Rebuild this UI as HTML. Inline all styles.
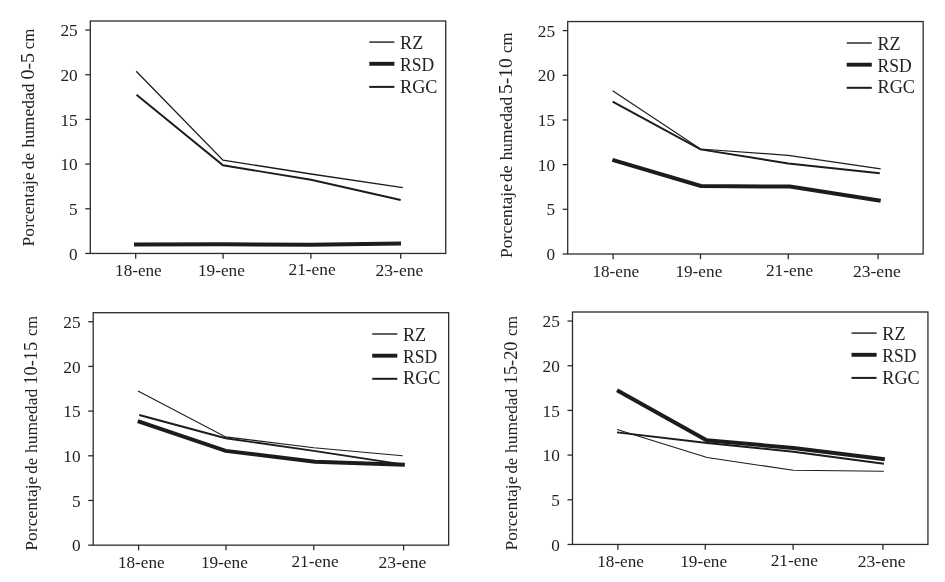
<!DOCTYPE html>
<html lang="es"><head><meta charset="utf-8"><title>Porcentaje de humedad</title>
<style>html,body{margin:0;padding:0;background:#fff}svg{display:block}text{font-family:"Liberation Serif",serif;fill:#222}</style></head><body>
<svg width="945" height="582" viewBox="0 0 945 582">
<rect width="945" height="582" fill="#ffffff"/>
<g>
<rect x="90.30" y="21.00" width="355.45" height="232.45" fill="none" stroke="#2c2c2c" stroke-width="1.3"/>
<line x1="85.30" y1="253.45" x2="90.30" y2="253.45" stroke="#2c2c2c" stroke-width="1.3"/>
<text x="77.70" y="259.55" font-size="17.5" text-anchor="end" textLength="8.6" lengthAdjust="spacingAndGlyphs">0</text>
<line x1="85.30" y1="208.77" x2="90.30" y2="208.77" stroke="#2c2c2c" stroke-width="1.3"/>
<text x="77.70" y="214.87" font-size="17.5" text-anchor="end" textLength="8.6" lengthAdjust="spacingAndGlyphs">5</text>
<line x1="85.30" y1="164.09" x2="90.30" y2="164.09" stroke="#2c2c2c" stroke-width="1.3"/>
<text x="77.70" y="170.19" font-size="17.5" text-anchor="end" textLength="17.3" lengthAdjust="spacingAndGlyphs">10</text>
<line x1="85.30" y1="119.41" x2="90.30" y2="119.41" stroke="#2c2c2c" stroke-width="1.3"/>
<text x="77.70" y="125.51" font-size="17.5" text-anchor="end" textLength="17.3" lengthAdjust="spacingAndGlyphs">15</text>
<line x1="85.30" y1="74.73" x2="90.30" y2="74.73" stroke="#2c2c2c" stroke-width="1.3"/>
<text x="77.70" y="80.83" font-size="17.5" text-anchor="end" textLength="17.3" lengthAdjust="spacingAndGlyphs">20</text>
<line x1="85.30" y1="30.05" x2="90.30" y2="30.05" stroke="#2c2c2c" stroke-width="1.3"/>
<text x="77.70" y="36.15" font-size="17.5" text-anchor="end" textLength="17.3" lengthAdjust="spacingAndGlyphs">25</text>
<line x1="135.70" y1="253.45" x2="135.70" y2="258.65" stroke="#2c2c2c" stroke-width="1.3"/>
<text x="138.40" y="276.10" font-size="17.5" text-anchor="middle" textLength="46.7" lengthAdjust="spacingAndGlyphs">18-ene</text>
<line x1="223.10" y1="253.45" x2="223.10" y2="258.65" stroke="#2c2c2c" stroke-width="1.3"/>
<text x="221.45" y="276.30" font-size="17.5" text-anchor="middle" textLength="46.9" lengthAdjust="spacingAndGlyphs">19-ene</text>
<line x1="310.90" y1="253.45" x2="310.90" y2="258.65" stroke="#2c2c2c" stroke-width="1.3"/>
<text x="312.10" y="275.40" font-size="17.5" text-anchor="middle" textLength="47.2" lengthAdjust="spacingAndGlyphs">21-ene</text>
<line x1="400.70" y1="253.45" x2="400.70" y2="258.65" stroke="#2c2c2c" stroke-width="1.3"/>
<text x="399.45" y="276.10" font-size="17.5" text-anchor="middle" textLength="47.8" lengthAdjust="spacingAndGlyphs">23-ene</text>
<text transform="translate(34.30 0) rotate(-90)" y="0"><tspan x="-246.40" font-size="17.5" textLength="74.0" lengthAdjust="spacingAndGlyphs">Porcentaje</tspan> <tspan x="-169.20" font-size="17.5" textLength="16.3" lengthAdjust="spacingAndGlyphs">de</tspan> <tspan x="-147.60" font-size="17.5" textLength="64.0" lengthAdjust="spacingAndGlyphs">humedad</tspan> <tspan x="-79.50" font-size="19" textLength="26.6" lengthAdjust="spacingAndGlyphs">0-5</tspan> <tspan x="-49.30" font-size="17.5" textLength="20.5" lengthAdjust="spacingAndGlyphs">cm</tspan></text>
<line x1="369.30" y1="42.10" x2="394.40" y2="42.10" stroke="#1c1c1c" stroke-width="1.4"/>
<text x="400.10" y="48.70" font-size="18" textLength="23.2" lengthAdjust="spacingAndGlyphs">RZ</text>
<line x1="369.30" y1="63.80" x2="394.40" y2="63.80" stroke="#1c1c1c" stroke-width="3.9"/>
<text x="400.10" y="70.70" font-size="18" textLength="34.1" lengthAdjust="spacingAndGlyphs">RSD</text>
<line x1="369.30" y1="86.90" x2="394.40" y2="86.90" stroke="#1c1c1c" stroke-width="2.0"/>
<text x="400.10" y="92.50" font-size="18" textLength="37.4" lengthAdjust="spacingAndGlyphs">RGC</text>
<polyline points="136.2,71.3 223.0,160.1 311.0,174.0 402.8,187.6" fill="none" stroke="#1c1c1c" stroke-width="1.30" stroke-linejoin="miter"/>
<polyline points="136.5,94.7 223.0,165.3 311.0,179.7 400.7,200.0" fill="none" stroke="#1c1c1c" stroke-width="1.95" stroke-linejoin="miter"/>
<polyline points="134.0,244.6 223.0,244.2 311.0,244.7 401.0,243.6" fill="none" stroke="#1c1c1c" stroke-width="4.00" stroke-linejoin="miter"/>
</g>
<g>
<rect x="567.70" y="21.55" width="355.45" height="232.45" fill="none" stroke="#2c2c2c" stroke-width="1.3"/>
<line x1="562.70" y1="254.00" x2="567.70" y2="254.00" stroke="#2c2c2c" stroke-width="1.3"/>
<text x="555.10" y="260.10" font-size="17.5" text-anchor="end" textLength="8.6" lengthAdjust="spacingAndGlyphs">0</text>
<line x1="562.70" y1="209.32" x2="567.70" y2="209.32" stroke="#2c2c2c" stroke-width="1.3"/>
<text x="555.10" y="215.42" font-size="17.5" text-anchor="end" textLength="8.6" lengthAdjust="spacingAndGlyphs">5</text>
<line x1="562.70" y1="164.64" x2="567.70" y2="164.64" stroke="#2c2c2c" stroke-width="1.3"/>
<text x="555.10" y="170.74" font-size="17.5" text-anchor="end" textLength="17.3" lengthAdjust="spacingAndGlyphs">10</text>
<line x1="562.70" y1="119.96" x2="567.70" y2="119.96" stroke="#2c2c2c" stroke-width="1.3"/>
<text x="555.10" y="126.06" font-size="17.5" text-anchor="end" textLength="17.3" lengthAdjust="spacingAndGlyphs">15</text>
<line x1="562.70" y1="75.28" x2="567.70" y2="75.28" stroke="#2c2c2c" stroke-width="1.3"/>
<text x="555.10" y="81.38" font-size="17.5" text-anchor="end" textLength="17.3" lengthAdjust="spacingAndGlyphs">20</text>
<line x1="562.70" y1="30.60" x2="567.70" y2="30.60" stroke="#2c2c2c" stroke-width="1.3"/>
<text x="555.10" y="36.70" font-size="17.5" text-anchor="end" textLength="17.3" lengthAdjust="spacingAndGlyphs">25</text>
<line x1="613.10" y1="254.00" x2="613.10" y2="259.20" stroke="#2c2c2c" stroke-width="1.3"/>
<text x="615.80" y="276.65" font-size="17.5" text-anchor="middle" textLength="46.7" lengthAdjust="spacingAndGlyphs">18-ene</text>
<line x1="700.50" y1="254.00" x2="700.50" y2="259.20" stroke="#2c2c2c" stroke-width="1.3"/>
<text x="698.85" y="276.85" font-size="17.5" text-anchor="middle" textLength="46.9" lengthAdjust="spacingAndGlyphs">19-ene</text>
<line x1="788.30" y1="254.00" x2="788.30" y2="259.20" stroke="#2c2c2c" stroke-width="1.3"/>
<text x="789.50" y="275.95" font-size="17.5" text-anchor="middle" textLength="47.2" lengthAdjust="spacingAndGlyphs">21-ene</text>
<line x1="878.10" y1="254.00" x2="878.10" y2="259.20" stroke="#2c2c2c" stroke-width="1.3"/>
<text x="876.85" y="276.65" font-size="17.5" text-anchor="middle" textLength="47.8" lengthAdjust="spacingAndGlyphs">23-ene</text>
<text transform="translate(511.70 0) rotate(-90)" y="0"><tspan x="-257.90" font-size="17.5" textLength="73.8" lengthAdjust="spacingAndGlyphs">Porcentaje</tspan> <tspan x="-182.10" font-size="17.5" textLength="16.5" lengthAdjust="spacingAndGlyphs">de</tspan> <tspan x="-160.30" font-size="17.5" textLength="63.5" lengthAdjust="spacingAndGlyphs">humedad</tspan> <tspan x="-94.10" font-size="19" textLength="35.9" lengthAdjust="spacingAndGlyphs">5-10</tspan> <tspan x="-52.90" font-size="17.5" textLength="20.4" lengthAdjust="spacingAndGlyphs">cm</tspan></text>
<line x1="846.70" y1="43.00" x2="871.80" y2="43.00" stroke="#1c1c1c" stroke-width="1.4"/>
<text x="877.50" y="49.60" font-size="18" textLength="23.2" lengthAdjust="spacingAndGlyphs">RZ</text>
<line x1="846.70" y1="64.70" x2="871.80" y2="64.70" stroke="#1c1c1c" stroke-width="3.9"/>
<text x="877.50" y="71.60" font-size="18" textLength="34.1" lengthAdjust="spacingAndGlyphs">RSD</text>
<line x1="846.70" y1="87.80" x2="871.80" y2="87.80" stroke="#1c1c1c" stroke-width="2.0"/>
<text x="877.50" y="93.40" font-size="18" textLength="37.4" lengthAdjust="spacingAndGlyphs">RGC</text>
<polyline points="612.6,90.8 700.5,149.0 788.3,155.3 880.7,168.9" fill="none" stroke="#1c1c1c" stroke-width="1.20" stroke-linejoin="miter"/>
<polyline points="612.6,101.6 700.5,149.4 788.3,163.5 879.8,173.3" fill="none" stroke="#1c1c1c" stroke-width="1.95" stroke-linejoin="miter"/>
<polyline points="612.4,159.8 700.8,186.0 790.0,186.6 880.7,200.7" fill="none" stroke="#1c1c1c" stroke-width="4.00" stroke-linejoin="miter"/>
</g>
<g>
<rect x="93.20" y="312.70" width="355.45" height="232.45" fill="none" stroke="#2c2c2c" stroke-width="1.3"/>
<line x1="88.20" y1="545.15" x2="93.20" y2="545.15" stroke="#2c2c2c" stroke-width="1.3"/>
<text x="80.60" y="551.25" font-size="17.5" text-anchor="end" textLength="8.6" lengthAdjust="spacingAndGlyphs">0</text>
<line x1="88.20" y1="500.47" x2="93.20" y2="500.47" stroke="#2c2c2c" stroke-width="1.3"/>
<text x="80.60" y="506.57" font-size="17.5" text-anchor="end" textLength="8.6" lengthAdjust="spacingAndGlyphs">5</text>
<line x1="88.20" y1="455.79" x2="93.20" y2="455.79" stroke="#2c2c2c" stroke-width="1.3"/>
<text x="80.60" y="461.89" font-size="17.5" text-anchor="end" textLength="17.3" lengthAdjust="spacingAndGlyphs">10</text>
<line x1="88.20" y1="411.11" x2="93.20" y2="411.11" stroke="#2c2c2c" stroke-width="1.3"/>
<text x="80.60" y="417.21" font-size="17.5" text-anchor="end" textLength="17.3" lengthAdjust="spacingAndGlyphs">15</text>
<line x1="88.20" y1="366.43" x2="93.20" y2="366.43" stroke="#2c2c2c" stroke-width="1.3"/>
<text x="80.60" y="372.53" font-size="17.5" text-anchor="end" textLength="17.3" lengthAdjust="spacingAndGlyphs">20</text>
<line x1="88.20" y1="321.75" x2="93.20" y2="321.75" stroke="#2c2c2c" stroke-width="1.3"/>
<text x="80.60" y="327.85" font-size="17.5" text-anchor="end" textLength="17.3" lengthAdjust="spacingAndGlyphs">25</text>
<line x1="138.60" y1="545.15" x2="138.60" y2="550.35" stroke="#2c2c2c" stroke-width="1.3"/>
<text x="141.30" y="567.80" font-size="17.5" text-anchor="middle" textLength="46.7" lengthAdjust="spacingAndGlyphs">18-ene</text>
<line x1="226.00" y1="545.15" x2="226.00" y2="550.35" stroke="#2c2c2c" stroke-width="1.3"/>
<text x="224.35" y="568.00" font-size="17.5" text-anchor="middle" textLength="46.9" lengthAdjust="spacingAndGlyphs">19-ene</text>
<line x1="313.80" y1="545.15" x2="313.80" y2="550.35" stroke="#2c2c2c" stroke-width="1.3"/>
<text x="315.00" y="567.10" font-size="17.5" text-anchor="middle" textLength="47.2" lengthAdjust="spacingAndGlyphs">21-ene</text>
<line x1="403.60" y1="545.15" x2="403.60" y2="550.35" stroke="#2c2c2c" stroke-width="1.3"/>
<text x="402.35" y="567.80" font-size="17.5" text-anchor="middle" textLength="47.8" lengthAdjust="spacingAndGlyphs">23-ene</text>
<text transform="translate(37.20 0) rotate(-90)" y="0"><tspan x="-550.70" font-size="17.5" textLength="74.1" lengthAdjust="spacingAndGlyphs">Porcentaje</tspan> <tspan x="-473.70" font-size="17.5" textLength="15.8" lengthAdjust="spacingAndGlyphs">de</tspan> <tspan x="-453.10" font-size="17.5" textLength="64.3" lengthAdjust="spacingAndGlyphs">humedad</tspan> <tspan x="-384.60" font-size="19" textLength="42.6" lengthAdjust="spacingAndGlyphs">10-15</tspan> <tspan x="-335.90" font-size="17.5" textLength="19.9" lengthAdjust="spacingAndGlyphs">cm</tspan></text>
<line x1="372.20" y1="334.00" x2="397.30" y2="334.00" stroke="#1c1c1c" stroke-width="1.4"/>
<text x="403.00" y="340.60" font-size="18" textLength="23.2" lengthAdjust="spacingAndGlyphs">RZ</text>
<line x1="372.20" y1="355.70" x2="397.30" y2="355.70" stroke="#1c1c1c" stroke-width="3.9"/>
<text x="403.00" y="362.60" font-size="18" textLength="34.1" lengthAdjust="spacingAndGlyphs">RSD</text>
<line x1="372.20" y1="378.80" x2="397.30" y2="378.80" stroke="#1c1c1c" stroke-width="2.0"/>
<text x="403.00" y="384.40" font-size="18" textLength="37.4" lengthAdjust="spacingAndGlyphs">RGC</text>
<polyline points="138.0,391.1 225.7,436.9 313.8,447.7 402.6,455.8" fill="none" stroke="#1c1c1c" stroke-width="1.10" stroke-linejoin="miter"/>
<polyline points="139.2,415.0 225.7,438.3 313.8,450.9 404.0,464.6" fill="none" stroke="#1c1c1c" stroke-width="1.95" stroke-linejoin="miter"/>
<polyline points="137.7,421.2 225.7,450.9 315.0,461.8 404.8,464.7" fill="none" stroke="#1c1c1c" stroke-width="4.00" stroke-linejoin="miter"/>
</g>
<g>
<rect x="572.50" y="312.00" width="355.45" height="232.45" fill="none" stroke="#2c2c2c" stroke-width="1.3"/>
<line x1="567.50" y1="544.45" x2="572.50" y2="544.45" stroke="#2c2c2c" stroke-width="1.3"/>
<text x="559.90" y="550.55" font-size="17.5" text-anchor="end" textLength="8.6" lengthAdjust="spacingAndGlyphs">0</text>
<line x1="567.50" y1="499.77" x2="572.50" y2="499.77" stroke="#2c2c2c" stroke-width="1.3"/>
<text x="559.90" y="505.87" font-size="17.5" text-anchor="end" textLength="8.6" lengthAdjust="spacingAndGlyphs">5</text>
<line x1="567.50" y1="455.09" x2="572.50" y2="455.09" stroke="#2c2c2c" stroke-width="1.3"/>
<text x="559.90" y="461.19" font-size="17.5" text-anchor="end" textLength="17.3" lengthAdjust="spacingAndGlyphs">10</text>
<line x1="567.50" y1="410.41" x2="572.50" y2="410.41" stroke="#2c2c2c" stroke-width="1.3"/>
<text x="559.90" y="416.51" font-size="17.5" text-anchor="end" textLength="17.3" lengthAdjust="spacingAndGlyphs">15</text>
<line x1="567.50" y1="365.73" x2="572.50" y2="365.73" stroke="#2c2c2c" stroke-width="1.3"/>
<text x="559.90" y="371.83" font-size="17.5" text-anchor="end" textLength="17.3" lengthAdjust="spacingAndGlyphs">20</text>
<line x1="567.50" y1="321.05" x2="572.50" y2="321.05" stroke="#2c2c2c" stroke-width="1.3"/>
<text x="559.90" y="327.15" font-size="17.5" text-anchor="end" textLength="17.3" lengthAdjust="spacingAndGlyphs">25</text>
<line x1="617.90" y1="544.45" x2="617.90" y2="549.65" stroke="#2c2c2c" stroke-width="1.3"/>
<text x="620.60" y="567.10" font-size="17.5" text-anchor="middle" textLength="46.7" lengthAdjust="spacingAndGlyphs">18-ene</text>
<line x1="705.30" y1="544.45" x2="705.30" y2="549.65" stroke="#2c2c2c" stroke-width="1.3"/>
<text x="703.65" y="567.30" font-size="17.5" text-anchor="middle" textLength="46.9" lengthAdjust="spacingAndGlyphs">19-ene</text>
<line x1="793.10" y1="544.45" x2="793.10" y2="549.65" stroke="#2c2c2c" stroke-width="1.3"/>
<text x="794.30" y="566.40" font-size="17.5" text-anchor="middle" textLength="47.2" lengthAdjust="spacingAndGlyphs">21-ene</text>
<line x1="882.90" y1="544.45" x2="882.90" y2="549.65" stroke="#2c2c2c" stroke-width="1.3"/>
<text x="881.65" y="567.10" font-size="17.5" text-anchor="middle" textLength="47.8" lengthAdjust="spacingAndGlyphs">23-ene</text>
<text transform="translate(516.50 0) rotate(-90)" y="0"><tspan x="-550.60" font-size="17.5" textLength="74.1" lengthAdjust="spacingAndGlyphs">Porcentaje</tspan> <tspan x="-473.60" font-size="17.5" textLength="15.8" lengthAdjust="spacingAndGlyphs">de</tspan> <tspan x="-453.00" font-size="17.5" textLength="64.3" lengthAdjust="spacingAndGlyphs">humedad</tspan> <tspan x="-384.30" font-size="19" textLength="42.8" lengthAdjust="spacingAndGlyphs">15-20</tspan> <tspan x="-335.90" font-size="17.5" textLength="19.9" lengthAdjust="spacingAndGlyphs">cm</tspan></text>
<line x1="851.50" y1="333.10" x2="876.60" y2="333.10" stroke="#1c1c1c" stroke-width="1.4"/>
<text x="882.30" y="339.70" font-size="18" textLength="23.2" lengthAdjust="spacingAndGlyphs">RZ</text>
<line x1="851.50" y1="354.80" x2="876.60" y2="354.80" stroke="#1c1c1c" stroke-width="3.9"/>
<text x="882.30" y="361.70" font-size="18" textLength="34.1" lengthAdjust="spacingAndGlyphs">RSD</text>
<line x1="851.50" y1="377.90" x2="876.60" y2="377.90" stroke="#1c1c1c" stroke-width="2.0"/>
<text x="882.30" y="383.50" font-size="18" textLength="37.4" lengthAdjust="spacingAndGlyphs">RGC</text>
<polyline points="617.0,429.5 707.1,457.5 793.4,470.3 883.9,471.3" fill="none" stroke="#1c1c1c" stroke-width="1.10" stroke-linejoin="miter"/>
<polyline points="617.0,432.4 707.1,443.0 793.4,451.7 883.9,463.7" fill="none" stroke="#1c1c1c" stroke-width="1.95" stroke-linejoin="miter"/>
<polyline points="617.0,390.2 706.6,440.2 793.4,448.0 884.8,459.2" fill="none" stroke="#1c1c1c" stroke-width="4.00" stroke-linejoin="miter"/>
</g>
</svg></body></html>
